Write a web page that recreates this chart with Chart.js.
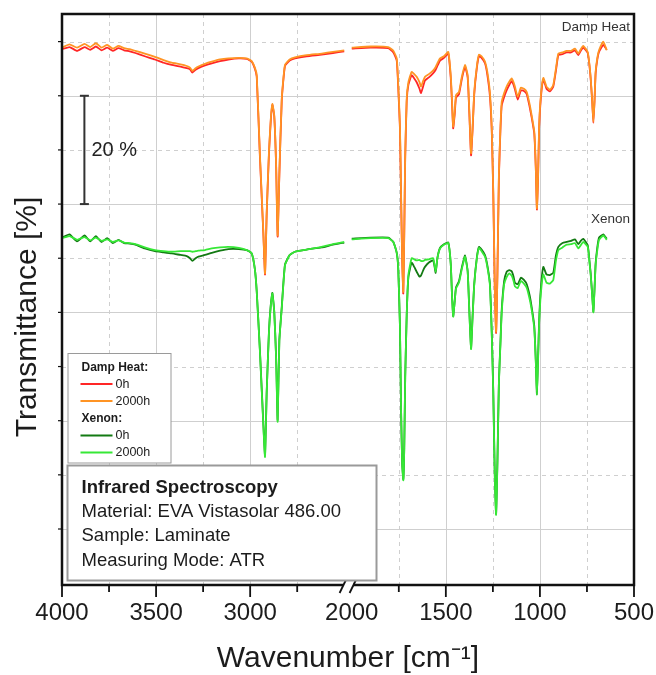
<!DOCTYPE html>
<html>
<head>
<meta charset="utf-8">
<title>Infrared Spectroscopy - EVA Vistasolar 486.00</title>
<script src="https://cdn.jsdelivr.net/npm/chart.js@4.4.1/dist/chart.umd.min.js"></script>
<style>
    html, body { margin: 0; padding: 0; background: #fff; }
    #wrap { width: 656px; height: 675px; }
</style>
</head>
<body>
<div id="wrap"><canvas id="irChart" width="656" height="675"></canvas></div>
<script>
// --- DATA (transmittance in % with the plot's offsets) ---

// left part of the broken axis: 4000 - 2500 cm-1
const wnLeft = [
    4000, 3960, 3920, 3880, 3850, 3820, 3790, 3760, 3730, 3700,
    3670, 3640, 3610, 3560, 3506, 3460, 3417, 3370, 3337, 3320,
    3307, 3290, 3275, 3240, 3204, 3160, 3116, 3060, 3018, 2992,
    2975, 2965, 2948, 2930, 2921, 2912, 2900, 2890, 2882, 2872,
    2862, 2854, 2845, 2832, 2815, 2790, 2762, 2700, 2620, 2560,
    2500
];

// right part of the broken axis: 2000 - 500 cm-1
const wnRight = [
    2000, 1900, 1806, 1779, 1761, 1753, 1744, 1738, 1732, 1726,
    1721, 1716, 1708, 1699, 1682, 1668, 1655, 1640, 1632, 1620,
    1611, 1590, 1567, 1554, 1545, 1531, 1510, 1487, 1474, 1467,
    1461, 1453, 1446, 1430, 1415, 1398, 1384, 1375, 1366, 1358,
    1349, 1335, 1324, 1310, 1292, 1280, 1266, 1256, 1248, 1240,
    1233, 1226, 1218, 1210, 1203, 1190, 1177, 1163, 1150, 1140,
    1133, 1118, 1101, 1085, 1070, 1055, 1044, 1030, 1022, 1016,
    1010, 1004, 995, 982, 965, 947, 929, 915, 902, 880,
    858, 835, 814, 796, 783, 770, 746, 736, 730, 722,
    716, 710, 704, 695, 686, 663, 645
];

// Damp Heat 0h (red)
const dampHeat0hLeft = [
    88.6, 89.0, 88.3, 89.0, 88.5, 89.1, 88.4, 88.9, 88.3, 88.8,
    88.4, 88.2, 87.9, 87.3, 86.7, 86.1, 85.7, 85.4, 85.1, 84.9,
    84.3, 84.8, 85.1, 85.6, 86.0, 86.4, 86.7, 86.9, 86.8, 86.3,
    85.0, 83.5, 68.6, 54.6, 47.0, 58.3, 69.4, 75.6, 78.3, 76.2,
    67.0, 54.0, 65.2, 79.2, 85.5, 86.5, 86.9, 87.3, 87.6, 87.9,
    88.2
];
const dampHeat0hRight = [
    88.7, 88.9, 88.8, 88.0, 86.5, 81.5, 74.0, 61.5, 49.5, 43.5,
    54.5, 68.5, 79.0, 82.0, 83.8, 83.2, 82.5, 81.3, 80.5, 81.8,
    82.8, 83.4, 84.2, 84.8, 85.5, 86.5, 87.0, 87.8, 83.3, 78.5,
    74.0, 76.5, 79.6, 80.3, 83.1, 85.4, 83.4, 76.6, 69.0, 73.6,
    80.3, 85.2, 87.3, 87.0, 86.0, 84.0, 80.0, 73.5, 62.0, 44.8,
    36.2, 46.8, 65.0, 73.5, 78.2, 79.8, 81.0, 82.0, 82.7, 82.0,
    81.2, 79.3, 81.0, 80.9, 80.3, 78.0, 76.0, 73.0, 66.6, 59.0,
    64.6, 74.2, 79.6, 83.0, 81.3, 80.8, 81.7, 84.6, 87.5, 87.7,
    88.0, 88.0, 88.4, 87.5, 88.3, 88.9, 87.9, 85.3, 83.0, 78.8,
    75.0, 78.8, 84.1, 86.7, 88.1, 89.4, 88.5
];

// Damp Heat 2000h (orange)
const dampHeat2000hLeft = [
    88.9, 89.5, 88.9, 89.6, 89.0, 89.7, 88.9, 89.4, 88.7, 89.2,
    88.8, 88.6, 88.3, 87.8, 87.2, 86.6, 86.1, 85.8, 85.5, 85.2,
    84.6, 85.1, 85.4, 85.9, 86.3, 86.7, 86.9, 87.0, 86.9, 86.4,
    85.2, 83.8, 69.0, 54.9, 47.2, 58.6, 69.7, 75.9, 78.5, 76.4,
    67.2, 54.2, 65.4, 79.5, 85.7, 86.7, 87.1, 87.5, 87.8, 88.1,
    88.4
];
const dampHeat2000hRight = [
    88.9, 89.1, 89.0, 88.3, 86.9, 82.0, 74.6, 62.0, 50.0, 43.8,
    55.0, 69.0, 79.5, 82.5, 84.4, 84.0, 83.5, 82.5, 81.7, 82.8,
    83.5, 84.0, 84.7, 85.3, 86.0, 86.9, 87.3, 88.1, 83.8, 79.0,
    74.3, 77.0, 80.1, 80.7, 83.5, 85.7, 83.8, 77.0, 69.4, 74.0,
    80.7, 85.5, 87.6, 87.3, 86.3, 84.5, 80.7, 74.0, 62.3, 45.0,
    36.4, 47.0, 65.4, 74.0, 78.9, 80.5, 81.7, 82.6, 83.2, 82.5,
    81.7, 79.8, 81.5, 81.3, 80.7, 78.5, 76.4, 73.4, 67.0, 59.2,
    65.0, 74.6, 80.0, 83.3, 81.7, 81.1, 82.0, 85.0, 87.8, 88.0,
    88.3, 88.3, 88.7, 87.8, 88.6, 89.2, 88.1, 85.5, 83.2, 79.0,
    75.2, 79.0, 84.4, 87.0, 88.4, 90.0, 88.4
];

// Xenon 0h (dark green)
const xenon0hLeft = [
    53.8, 54.4, 53.1, 54.2, 53.1, 54.1, 53.0, 53.7, 52.8, 53.4,
    52.8, 52.7, 52.5, 51.8, 51.3, 51.1, 50.9, 50.6, 50.4, 50.0,
    49.5, 50.0, 50.3, 50.6, 51.0, 51.4, 51.7, 51.7, 51.5, 50.9,
    48.0, 43.8, 32.9, 19.5, 13.6, 25.5, 36.6, 41.6, 43.6, 40.2,
    31.7, 20.1, 34.8, 41.0, 48.8, 50.6, 51.2, 51.6, 52.0, 52.5,
    52.9
];
const xenon0hRight = [
    53.6, 53.8, 53.8, 53.0, 51.0, 48.0, 37.5, 22.0, 12.0, 9.2,
    15.0, 28.0, 39.5, 46.5, 49.2, 48.4, 47.5, 46.6, 46.8, 47.8,
    48.4, 49.2, 49.6, 47.3, 50.0, 51.9, 52.6, 52.9, 49.0, 43.0,
    39.3, 42.0, 44.6, 45.8, 48.3, 50.5, 47.6, 40.2, 33.4, 39.2,
    45.3, 50.2, 52.1, 51.6, 50.6, 48.8, 45.4, 36.3, 25.5, 10.2,
    2.8, 12.2, 27.2, 34.3, 40.5, 45.8, 47.5, 47.8, 47.6, 46.6,
    45.5, 45.2, 46.4, 46.0, 45.2, 43.2, 41.0, 37.5, 31.2, 24.9,
    31.5, 38.6, 44.5, 48.4, 47.0, 46.9, 47.3, 50.5, 52.1, 52.8,
    53.0, 53.2, 53.5, 52.6, 53.2, 53.6, 52.4, 49.3, 47.1, 43.2,
    40.2, 44.2, 49.0, 52.0, 53.8, 54.4, 53.6
];

// Xenon 2000h (light green)
const xenon2000hLeft = [
    53.7, 54.1, 53.4, 53.9, 53.3, 53.8, 53.2, 53.5, 53.0, 53.3,
    52.9, 52.8, 52.6, 52.0, 51.5, 51.3, 51.2, 51.3, 51.3, 51.3,
    51.2, 51.3, 51.4, 51.5, 51.8, 52.0, 52.1, 51.9, 51.5, 50.9,
    48.0, 43.8, 32.7, 19.2, 13.3, 25.3, 36.4, 41.4, 43.5, 40.1,
    31.5, 19.8, 34.6, 40.8, 48.7, 50.6, 51.2, 51.6, 52.1, 52.6,
    53.0
];
const xenon2000hRight = [
    53.5, 53.7, 53.7, 53.0, 51.0, 48.2, 37.7, 22.0, 12.0, 9.0,
    15.0, 28.0, 39.5, 46.9, 50.0, 49.8, 49.6, 49.7, 49.5, 49.5,
    49.7, 49.8, 50.0, 47.5, 50.0, 51.8, 52.5, 52.8, 49.0, 43.0,
    39.2, 42.0, 44.4, 45.5, 48.0, 50.3, 47.5, 40.0, 33.2, 39.0,
    45.1, 50.0, 51.9, 51.3, 50.3, 48.5, 45.1, 36.0, 25.3, 10.0,
    2.6, 12.0, 27.0, 34.0, 40.0, 45.2, 46.5, 47.2, 46.8, 45.8,
    44.8, 44.5, 45.8, 45.3, 44.5, 42.5, 40.5, 37.0, 31.0, 24.7,
    31.0, 38.0, 43.5, 47.0, 45.5, 45.3, 46.0, 49.5, 51.5, 52.0,
    52.5, 52.6, 52.8, 51.8, 52.4, 53.0, 52.1, 49.0, 46.9, 43.0,
    40.0, 44.0, 48.7, 51.5, 53.4, 54.2, 53.4
];

// axis ticks
const labelTicksLeft = [4000, 3500, 3000];
const labelTicksRight = [2000, 1500, 1000, 500];
const majorMarksLeft = [4000, 3500, 3000];
const majorMarksRight = [1500, 1000, 500];
const minorMarksLeft = [3750, 3250, 2750];
const minorMarksRight = [1750, 1250, 750];
const yGridValues = [0, 10, 20, 30, 40, 50, 60, 70, 80, 90];

// scale bar (20 %) and annotations
const scaleBarWn = 3881;
const scaleBarFrom = 60;
const scaleBarTo = 80;
const legendGroups = [
    { title: 'Damp Heat:', items: [['0h', '#ff2626'], ['2000h', '#ff9424']] },
    { title: 'Xenon:', items: [['0h', '#137a13'], ['2000h', '#36e836']] }
];
const infoLines = ['Infrared Spectroscopy', 'Material: EVA Vistasolar 486.00', 'Sample: Laminate', 'Measuring Mode: ATR'];

// --- SETTINGS ---
const FONT = "'Liberation Sans', Arial, Helvetica, sans-serif";
const COLORS = {
    dh0: '#ff2626',
    dh2000: '#ff9424',
    xe0: '#137a13',
    xe2000: '#36e836',
    grid: '#cfcfcf',
    text: '#1c1c1c'
};

// --- FUNCTIONS ---
function series(label, wn, values, color, axisId) {
    return {
        label,
        data: wn.map((w, i) => ({ x: w, y: values[i] })),
        xAxisID: axisId,
        yAxisID: 'y',
        borderColor: color,
        backgroundColor: color,
        borderWidth: 1.8,
        pointRadius: 0,
        tension: 0.15,
        fill: false
    };
}

function line(ctx, x1, y1, x2, y2) {
    ctx.beginPath();
    ctx.moveTo(x1, y1);
    ctx.lineTo(x2, y2);
    ctx.stroke();
}

function drawGrid(chart) {
    const { ctx, chartArea: area, scales } = chart;
    ctx.save();
    ctx.strokeStyle = COLORS.grid;
    ctx.lineWidth = 1;
    const vertical = (scale, values, dashed) => {
        ctx.setLineDash(dashed ? [4, 4] : []);
        values.forEach(v => {
            const x = Math.round(scale.getPixelForValue(v)) + 0.5;
            if (x <= area.left + 2 || x >= area.right - 2) return;
            line(ctx, x, area.top, x, area.bottom);
        });
    };
    vertical(scales.xL, majorMarksLeft, false);
    vertical(scales.xR, majorMarksRight, false);
    vertical(scales.xL, minorMarksLeft, true);
    vertical(scales.xR, minorMarksRight, true);
    yGridValues.forEach(v => {
        ctx.setLineDash(v % 20 === 0 ? [] : [4, 4]);
        const y = Math.round(scales.y.getPixelForValue(v)) + 0.5;
        line(ctx, area.left, y, area.right, y);
    });
    ctx.restore();
}

function drawFrame(chart) {
    const { ctx, chartArea: area, scales } = chart;
    ctx.save();
    ctx.strokeStyle = '#111';
    ctx.lineWidth = 2.5;
    ctx.strokeRect(area.left, area.top, area.right - area.left, area.bottom - area.top);

    // tick marks below the axis
    ctx.lineWidth = 1.8;
    const marks = (scale, values, len) => values.forEach(v => {
        const x = scale.getPixelForValue(v);
        line(ctx, x, area.bottom, x, area.bottom + len);
    });
    marks(scales.xL, majorMarksLeft, 12);
    marks(scales.xR, majorMarksRight, 12);
    marks(scales.xL, minorMarksLeft, 7);
    marks(scales.xR, minorMarksRight, 7);

    // small ticks on the left border
    ctx.lineWidth = 1.2;
    yGridValues.forEach(v => {
        const y = scales.y.getPixelForValue(v);
        line(ctx, area.left - 4, y, area.left, y);
    });

    // axis break
    const breakX = (scales.xL.right + scales.xR.left) / 2;
    ctx.fillStyle = '#fff';
    ctx.fillRect(breakX - 5, area.bottom - 3, 10, 6);
    ctx.strokeStyle = '#111';
    ctx.lineWidth = 1.8;
    [-5, 5].forEach(dx => line(ctx, breakX + dx - 3.4, area.bottom + 8, breakX + dx + 3.4, area.bottom - 6));
    ctx.restore();
}

function drawAnnotations(chart) {
    const { ctx, chartArea: area, scales } = chart;
    ctx.save();

    // y axis title, centred a bit below the middle as in the original
    ctx.save();
    ctx.translate(28, 317);
    ctx.rotate(-Math.PI / 2);
    ctx.fillStyle = COLORS.text;
    ctx.font = `30px ${FONT}`;
    ctx.textAlign = 'center';
    ctx.textBaseline = 'middle';
    ctx.fillText('Transmittance [%]', 0, 0);
    ctx.restore();

    // 20 % scale bar
    const bx = scales.xL.getPixelForValue(scaleBarWn);
    const by1 = scales.y.getPixelForValue(scaleBarTo);
    const by2 = scales.y.getPixelForValue(scaleBarFrom);
    ctx.strokeStyle = '#333';
    ctx.lineWidth = 2;
    line(ctx, bx, by1, bx, by2);
    line(ctx, bx - 4.5, by1, bx + 4.5, by1);
    line(ctx, bx - 4.5, by2, bx + 4.5, by2);
    ctx.fillStyle = '#222';
    ctx.font = `20px ${FONT}`;
    ctx.textBaseline = 'middle';
    ctx.textAlign = 'left';
    ctx.fillText('20 %', bx + 7, (by1 + by2) / 2 + 1);

    // group names on the right
    ctx.font = `13.5px ${FONT}`;
    ctx.fillStyle = '#333';
    ctx.textAlign = 'right';
    ctx.fillText('Damp Heat', area.right - 4, scales.y.getPixelForValue(92.7));
    ctx.fillText('Xenon', area.right - 4, scales.y.getPixelForValue(57.2));

    // legend box
    const lx = area.left + 5.5, ly = 353;
    ctx.fillStyle = '#fff';
    ctx.fillRect(lx, ly, 103.5, 110);
    ctx.strokeStyle = '#9a9a9a';
    ctx.lineWidth = 1;
    ctx.strokeRect(lx + 0.5, ly + 0.5, 103, 109.5);
    ctx.textAlign = 'left';
    let rowY = ly + 14.5;
    legendGroups.forEach(group => {
        ctx.fillStyle = '#1c1c1c';
        ctx.font = `bold 12px ${FONT}`;
        ctx.fillText(group.title, lx + 14, rowY);
        rowY += 16.5;
        group.items.forEach(([name, color]) => {
            ctx.strokeStyle = color;
            ctx.lineWidth = 2;
            line(ctx, lx + 13, rowY, lx + 45, rowY);
            ctx.fillStyle = '#1c1c1c';
            ctx.font = `12.5px ${FONT}`;
            ctx.fillText(name, lx + 48, rowY + 0.5);
            rowY += 17;
        });
        rowY += 1;
    });

    // info box
    const ix = area.left + 5, iy = 465, iw = 310, ih = 116;
    ctx.fillStyle = '#fff';
    ctx.fillRect(ix, iy, iw, ih);
    ctx.strokeStyle = '#9a9a9a';
    ctx.strokeRect(ix + 0.5, iy + 0.5, iw - 1, ih - 1);
    infoLines.forEach((text, i) => {
        ctx.fillStyle = '#1c1c1c';
        ctx.font = `${i === 0 ? 'bold ' : ''}18.5px ${FONT}`;
        ctx.fillText(text, ix + 14.5, iy + 22.5 + i * 24.4);
    });
    ctx.restore();
}

const decorPlugin = {
    id: 'irDecor',
    beforeDatasetsDraw: (chart) => drawGrid(chart),
    afterDatasetsDraw: (chart) => {
        drawFrame(chart);
        drawAnnotations(chart);
    }
};

function xScale(min, max, labels) {
    return {
        type: 'linear',
        position: 'bottom',
        stack: 'wavenumber',
        stackWeight: 1,
        reverse: true,
        min,
        max,
        grid: { display: false },
        border: { display: false },
        ticks: {
            autoSkip: false,
            maxRotation: 0,
            minRotation: 0,
            padding: 6,
            color: COLORS.text,
            font: { family: FONT, size: 24 },
            callback: (value) => String(value)
        },
        afterBuildTicks: (scale) => { scale.ticks = labels.map(v => ({ value: v })); },
        afterFit: (scale) => {
            // fixed box so the plot area matches the original frame
            scale.height = 55;
            scale.paddingLeft = 0;
            scale.paddingRight = 0;
        }
    };
}

// --- CHART ---
function main() {
    const ctx = document.getElementById('irChart').getContext('2d');
    new Chart(ctx, {
        type: 'line',
        data: {
            datasets: [
                series('Damp Heat 2000h', wnLeft, dampHeat2000hLeft, COLORS.dh2000, 'xL'),
                series('Damp Heat 2000h', wnRight, dampHeat2000hRight, COLORS.dh2000, 'xR'),
                series('Damp Heat 0h', wnLeft, dampHeat0hLeft, COLORS.dh0, 'xL'),
                series('Damp Heat 0h', wnRight, dampHeat0hRight, COLORS.dh0, 'xR'),
                series('Xenon 2000h', wnLeft, xenon2000hLeft, COLORS.xe2000, 'xL'),
                series('Xenon 2000h', wnRight, xenon2000hRight, COLORS.xe2000, 'xR'),
                series('Xenon 0h', wnLeft, xenon0hLeft, COLORS.xe0, 'xL'),
                series('Xenon 0h', wnRight, xenon0hRight, COLORS.xe0, 'xR')
            ]
        },
        options: {
            responsive: false,
            animation: false,
            events: [],
            layout: { padding: { top: 14, right: 22, left: 0, bottom: 0 } },
            scales: {
                xL: xScale(2480, 4000, labelTicksLeft),
                xR: xScale(500, 2020, labelTicksRight),
                y: {
                    type: 'linear',
                    position: 'left',
                    min: -10.34,
                    max: 95.1,
                    grid: { display: false },
                    border: { display: false },
                    ticks: { display: false },
                    afterFit: (scale) => { scale.width = 62; }
                }
            },
            plugins: {
                legend: { display: false },
                tooltip: { enabled: false },
                title: {
                    display: true,
                    position: 'bottom',
                    fullSize: false,
                    text: 'Wavenumber [cm\u207B\u00B9]',
                    color: COLORS.text,
                    font: { family: FONT, size: 30, weight: 'normal', lineHeight: 1 },
                    padding: { top: 4, bottom: 1 }
                }
            }
        },
        plugins: [decorPlugin]
    });
}

main();
</script>
</body>
</html>
